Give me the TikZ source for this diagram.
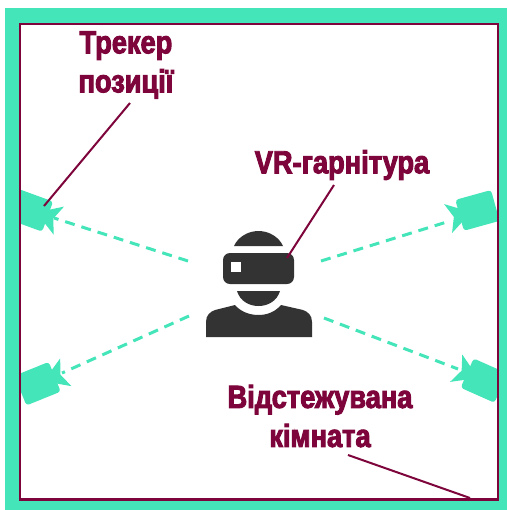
\documentclass[tikz,border=0pt]{standalone}
\usepackage{fontspec}
\setmainfont[BoldFeatures={FakeBold=3,FakeStretch=0.85}]{Liberation Sans}
\newlength{\du}
\setlength{\du}{0.5pt}
\definecolor{roomteal}{rgb}{0.270000, 0.900000, 0.730000}
\definecolor{labelwine}{rgb}{0.490000, 0.020000, 0.230000}
\definecolor{persongrey}{rgb}{0.200000, 0.200000, 0.200000}
\tikzset{
  roomlabel/.style={inner sep=0pt,font=\fontsize{32\du}{39\du}\selectfont\bfseries,text=labelwine,align=center},
  leader/.style={draw=labelwine,line width=2\du},
  beam/.style={draw=roomteal,line width=3\du,dash pattern=on 10\du off 7\du},
}
% one tracker: lens looks along local +x
\newcommand{\tracker}[3]{
\fill[roomteal,rounded corners=3\du,shift={(#1,#2)},rotate=#3] (-47,-16) -- (-10,-16) -- (-10,16) -- (-47,16) -- cycle;
\fill[roomteal,shift={(#1,#2)},rotate=#3] (-22,0) -- (2,-15) -- (-4,0) -- (2,15) -- cycle;
}
\begin{document}
\begin{tikzpicture}[x=1\du,y=-1\du]
\useasboundingbox (0,0) rectangle (507,510);
\fill[white] (0,0) rectangle (507,510);
\tracker{57}{220}{-20}
\tracker{450}{218}{195.5}
\tracker{64}{373}{22}
\tracker{458}{369}{156}
\fill[even odd rule,roomteal] (5,8) rectangle (507,510) (20,24) rectangle (498,499);
\draw[labelwine,line width=2.5\du] (20,24) rectangle (498,499.5);
% person
\fill[persongrey] (234,246) .. controls (238,237) and (248,231) .. (258.5,231) .. controls (269,231) and (279,237) .. (283,246) -- cycle;
\fill[persongrey,rounded corners=7\du] (223,253) rectangle (294,284);
\fill[white] (231,262) rectangle (241,272);
\fill[persongrey] (237,291) -- (280,291) .. controls (277,301) and (268,306) .. (258.5,306) .. controls (249,306) and (240,301) .. (237,291) -- cycle;
\fill[persongrey] (206,337) -- (206,322) .. controls (206,315) and (210,312) .. (215,310) -- (235,305) .. controls (241,312) and (250,315) .. (258.5,315) .. controls (267,315) and (275,312) .. (281,305) -- (303,310) .. controls (308,312) and (312,315) .. (312,322) -- (312,337) -- cycle;
% beams
\coordinate (hmdA) at (188,261);
\coordinate (hmdB) at (321,261);
\coordinate (hmdC) at (189,316);
\coordinate (hmdD) at (324,318);
\coordinate (camA) at (54,218);
\coordinate (camB) at (450,221);
\coordinate (camC) at (62,373);
\coordinate (camD) at (458,369);
\draw[beam] (hmdA) -- (camA);
\draw[beam] (hmdB) -- (camB);
\draw[beam] (hmdC) -- (camC);
\draw[beam] (hmdD) -- (camD);
% labels
\node[roomlabel] (tracklabel) at (126,65) {Трекер\\позиції};
\node[roomlabel] (hmdlabel) at (342,165) {VR-гарнітура};
\node[roomlabel] (roomname) at (320,416) {Відстежувана\\кімната};
\coordinate (trackstart) at (130,103);
\coordinate (trackend) at (44,206);
\coordinate (hmdstart) at (334,185);
\coordinate (hmdend) at (287,258);
\coordinate (roomstart) at (348,455);
\coordinate (roomend) at (470,498);
\draw[leader] (trackstart) -- (trackend);
\draw[leader] (hmdstart) -- (hmdend);
\draw[leader] (roomstart) -- (roomend);
\end{tikzpicture}
\end{document}
